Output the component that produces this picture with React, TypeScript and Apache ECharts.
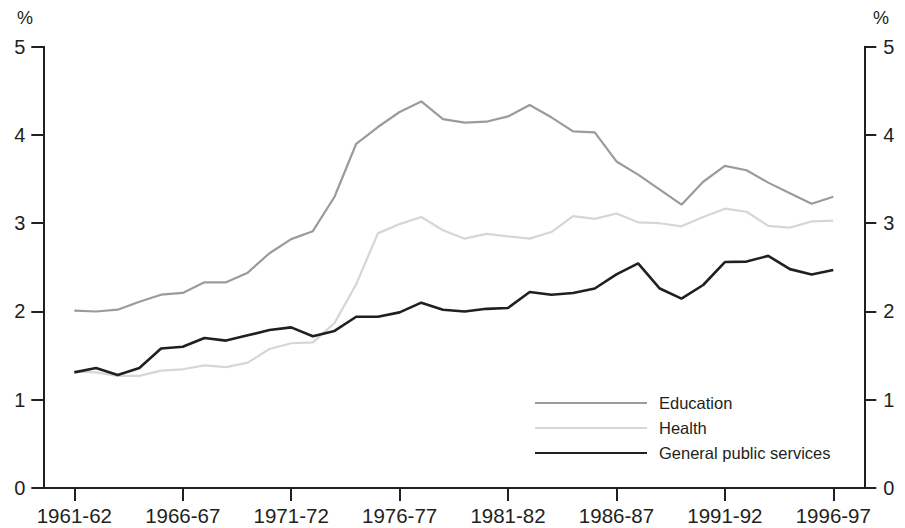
import React, { useEffect, useRef } from "react";
import * as echarts from "echarts";

const categories = [
  "1961-62", "1962-63", "1963-64", "1964-65", "1965-66", "1966-67", "1967-68", "1968-69",
  "1969-70", "1970-71", "1971-72", "1972-73", "1973-74", "1974-75", "1975-76", "1976-77",
  "1977-78", "1978-79", "1979-80", "1980-81", "1981-82", "1982-83", "1983-84", "1984-85",
  "1985-86", "1986-87", "1987-88", "1988-89", "1989-90", "1990-91", "1991-92", "1992-93",
  "1993-94", "1994-95", "1995-96", "1996-97",
];

const education = [
  2.01, 2.0, 2.02, 2.11, 2.19, 2.21, 2.33, 2.33, 2.44, 2.66, 2.82, 2.91, 3.3, 3.9, 4.09, 4.26,
  4.38, 4.18, 4.14, 4.15, 4.21, 4.34, 4.2, 4.04, 4.03, 3.7, 3.55, 3.38, 3.21, 3.47, 3.65, 3.6,
  3.46, 3.34, 3.22, 3.3,
];

const health = [
  1.32, 1.31, 1.27, 1.27, 1.33, 1.345, 1.39, 1.37, 1.42, 1.575, 1.64, 1.65, 1.87, 2.31, 2.885,
  2.99, 3.07, 2.92, 2.825, 2.88, 2.85, 2.825, 2.9, 3.08, 3.05, 3.11, 3.01, 3.0, 2.965, 3.07,
  3.165, 3.13, 2.97, 2.95, 3.02, 3.03,
];

const general = [
  1.31, 1.36, 1.28, 1.36, 1.58, 1.6, 1.7, 1.67, 1.73, 1.79, 1.82, 1.72, 1.78, 1.94, 1.94, 1.99,
  2.1, 2.02, 2.0, 2.03, 2.04, 2.22, 2.19, 2.21, 2.26, 2.42, 2.545, 2.26, 2.145, 2.3, 2.56, 2.565,
  2.63, 2.48, 2.42, 2.47,
];

const tickIndices = [0, 5, 10, 15, 20, 25, 30, 35];
const yTicks = [0, 1, 2, 3, 4, 5];

const INK = "#231f20";
const FONT = "Liberation Sans, Arial, sans-serif";

export default function App() {
  const ref = useRef<HTMLDivElement>(null);

  useEffect(() => {
    if (!ref.current) return;
    const chart = echarts.init(ref.current, undefined, { renderer: "svg" });
    const toPairs = (arr: number[]) => arr.map((v, i) => [i, v]);
    const yAxisBase = (pos: "left" | "right") => ({
      type: "value",
      position: pos,
      min: 0,
      max: 5,
      interval: 1,
      axisLine: { show: true, onZero: false, lineStyle: { color: INK, width: 2 } },
      axisTick: { show: true, length: 12, lineStyle: { color: INK, width: 2 } },
      splitLine: { show: false },
      axisLabel: {
        color: INK,
        fontFamily: FONT,
        fontSize: 20,
        margin: pos === "left" ? 18 : 19,
      },
    });
    chart.setOption({
      animation: false,
      backgroundColor: "#ffffff",
      grid: {
        left: 43.3,
        right: 40.7,
        top: 46.7,
        bottom: 40,
        containLabel: false,
        outerBoundsMode: "none",
      },
      xAxis: {
        type: "value",
        min: -1.43,
        max: 36.43,
        axisLine: { show: true, onZero: false, lineStyle: { color: INK, width: 2 } },
        axisTick: {
          show: true,
          length: 13,
          customValues: tickIndices,
          lineStyle: { color: INK, width: 2 },
        },
        splitLine: { show: false },
        axisLabel: {
          customValues: tickIndices,
          formatter: (v: number) => categories[Math.round(v)] ?? "",
          color: INK,
          fontFamily: FONT,
          fontSize: 20.5,
          margin: 17,
          showMinLabel: true,
          showMaxLabel: true,
        },
      },
      yAxis: [yAxisBase("left"), yAxisBase("right")],
      legend: {
        orient: "vertical",
        left: 534,
        top: 393,
        padding: 0,
        itemWidth: 112,
        itemHeight: 20,
        itemGap: 5,
        itemStyle: { opacity: 0 },
        textStyle: {
          color: INK,
          fontFamily: FONT,
          fontSize: 16.5,
          lineHeight: 20,
          padding: [0, 0, 0, 7],
        },
        data: ["Education", "Health", "General public services"],
      },
      graphic: [
        {
          type: "text",
          x: 25,
          y: 18,
          style: { text: "%", fill: INK, font: `18px ${FONT}`, align: "center", verticalAlign: "middle" },
        },
        {
          type: "text",
          x: 881,
          y: 18,
          style: { text: "%", fill: INK, font: `18px ${FONT}`, align: "center", verticalAlign: "middle" },
        },
      ],
      series: [
        {
          name: "Education",
          type: "line",
          data: toPairs(education),
          symbol: "none",
          lineStyle: { color: "#9b9b9d", width: 2.2 },
          itemStyle: { color: "#9b9b9d" },
        },
        {
          name: "Health",
          type: "line",
          data: toPairs(health),
          symbol: "none",
          lineStyle: { color: "#d6d6d6", width: 2.2 },
          itemStyle: { color: "#d6d6d6" },
        },
        {
          name: "General public services",
          type: "line",
          data: toPairs(general),
          symbol: "none",
          lineStyle: { color: INK, width: 2.6 },
          itemStyle: { color: INK },
        },
      ],
    });
    return () => chart.dispose();
  }, []);

  return (
    <div
      ref={ref}
      style={{ position: "absolute", left: 0, top: 0, width: 905, height: 528, background: "#fff" }}
    />
  );
}
